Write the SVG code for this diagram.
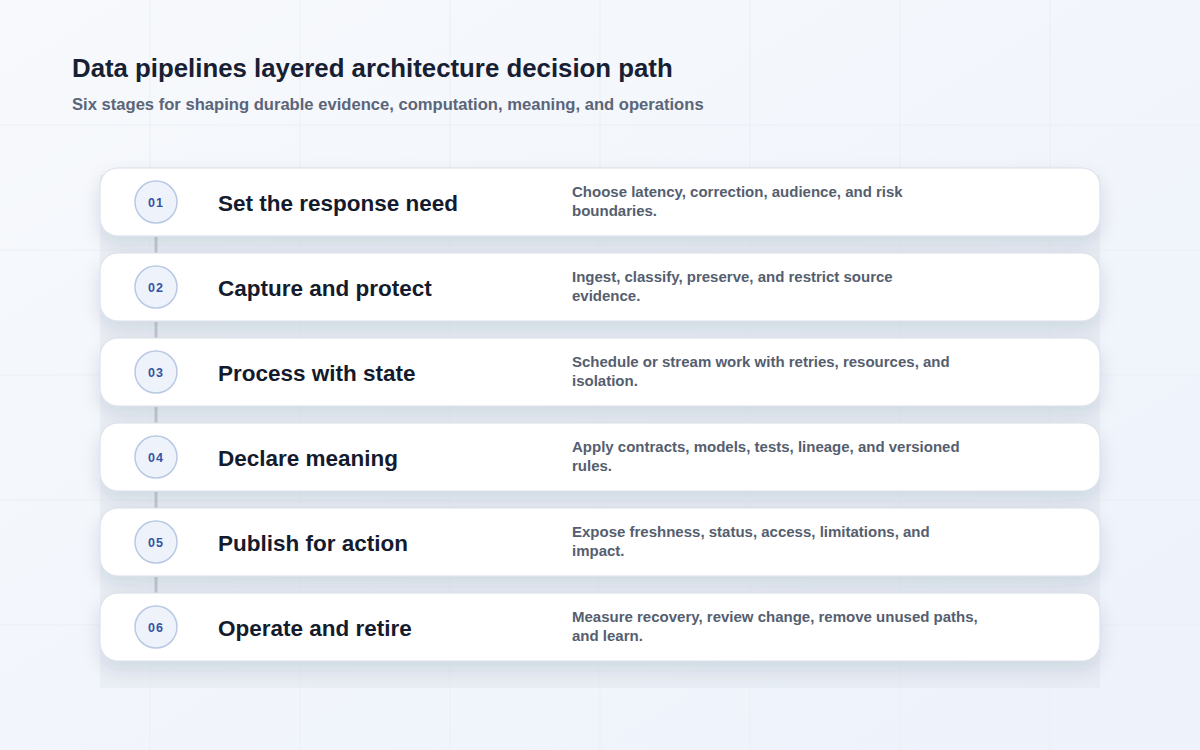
<svg xmlns="http://www.w3.org/2000/svg" width="1200" height="750" viewBox="0 0 1200 750">
  <defs>
    <linearGradient id="bg" x1="0" y1="0" x2="1" y2="1">
      <stop offset="0" stop-color="#f7f9fc"/>
      <stop offset="1" stop-color="#edf2fb"/>
    </linearGradient>
    <filter id="shadow" x="-10%" y="-40%" width="120%" height="200%">
      <feDropShadow dx="0" dy="8" stdDeviation="9" flood-color="#1e2a4a" flood-opacity="0.12"/>
    </filter>
  </defs>
  <style>
    .grid { stroke: #e9edf4; stroke-width: 1; opacity: 0.8; }
    .title { font-family: "Liberation Sans", Arial, sans-serif; font-weight: bold; font-size: 25.8px; fill: #172033; }
    .subtitle { font-family: "Liberation Sans", Arial, sans-serif; font-weight: bold; font-size: 16.6px; fill: #5b6579; }
    .card { fill: #ffffff; stroke: #d7dde8; stroke-width: 1; filter: url(#shadow); }
    .badge { fill: #eef3fb; stroke: #b9c9e4; stroke-width: 1.5; }
    .num { font-family: "Liberation Sans", Arial, sans-serif; font-weight: bold; font-size: 12.5px; fill: #3454a4; letter-spacing: 1px; text-anchor: middle; }
    .head { font-family: "Liberation Sans", Arial, sans-serif; font-weight: bold; font-size: 22.5px; fill: #141b2c; }
    .desc { font-family: "Liberation Sans", Arial, sans-serif; font-weight: bold; font-size: 15px; fill: #555e6f; }
    .link { stroke: #c5c9d2; stroke-width: 3; fill: none; }
  </style>

  <rect width="1200" height="750" fill="url(#bg)"/>
  <g id="grid">
    <line class="grid" x1="150" y1="0" x2="150" y2="750"/>
    <line class="grid" x1="300" y1="0" x2="300" y2="750"/>
    <line class="grid" x1="450" y1="0" x2="450" y2="750"/>
    <line class="grid" x1="600" y1="0" x2="600" y2="750"/>
    <line class="grid" x1="750" y1="0" x2="750" y2="750"/>
    <line class="grid" x1="900" y1="0" x2="900" y2="750"/>
    <line class="grid" x1="1050" y1="0" x2="1050" y2="750"/>
    <line class="grid" x1="0" y1="125" x2="1200" y2="125"/>
    <line class="grid" x1="0" y1="250" x2="1200" y2="250"/>
    <line class="grid" x1="0" y1="375" x2="1200" y2="375"/>
    <line class="grid" x1="0" y1="500" x2="1200" y2="500"/>
    <line class="grid" x1="0" y1="625" x2="1200" y2="625"/>
  </g>

  <g id="header">
    <text class="title" x="72" y="77">Data pipelines layered architecture decision path</text>
    <text class="subtitle" x="72" y="110">Six stages for shaping durable evidence, computation, meaning, and operations</text>
  </g>

  <rect id="panel" x="100" y="175" width="1000" height="513" fill="#e2e7f0" opacity="0.5"/>

  <g id="connectors">
    <line class="link" x1="156" y1="237" x2="156" y2="253"/>
    <line class="link" x1="156" y1="322" x2="156" y2="338"/>
    <line class="link" x1="156" y1="407" x2="156" y2="423"/>
    <line class="link" x1="156" y1="492" x2="156" y2="508"/>
    <line class="link" x1="156" y1="577" x2="156" y2="593"/>
  </g>

  <g id="stage1">
    <rect class="card" x="100" y="168" width="1000" height="68" rx="18"/>
    <circle class="badge" cx="156" cy="202" r="21"/>
    <text class="num" x="156" y="206.5">01</text>
    <text class="head" x="218" y="211">Set the response need</text>
    <text class="desc" x="572" y="197">Choose latency, correction, audience, and risk</text>
    <text class="desc" x="572" y="216">boundaries.</text>
  </g>
  <g id="stage2">
    <rect class="card" x="100" y="253" width="1000" height="68" rx="18"/>
    <circle class="badge" cx="156" cy="287" r="21"/>
    <text class="num" x="156" y="291.5">02</text>
    <text class="head" x="218" y="296">Capture and protect</text>
    <text class="desc" x="572" y="282">Ingest, classify, preserve, and restrict source</text>
    <text class="desc" x="572" y="301">evidence.</text>
  </g>
  <g id="stage3">
    <rect class="card" x="100" y="338" width="1000" height="68" rx="18"/>
    <circle class="badge" cx="156" cy="372" r="21"/>
    <text class="num" x="156" y="376.5">03</text>
    <text class="head" x="218" y="381">Process with state</text>
    <text class="desc" x="572" y="367">Schedule or stream work with retries, resources, and</text>
    <text class="desc" x="572" y="386">isolation.</text>
  </g>
  <g id="stage4">
    <rect class="card" x="100" y="423" width="1000" height="68" rx="18"/>
    <circle class="badge" cx="156" cy="457" r="21"/>
    <text class="num" x="156" y="461.5">04</text>
    <text class="head" x="218" y="466">Declare meaning</text>
    <text class="desc" x="572" y="452">Apply contracts, models, tests, lineage, and versioned</text>
    <text class="desc" x="572" y="471">rules.</text>
  </g>
  <g id="stage5">
    <rect class="card" x="100" y="508" width="1000" height="68" rx="18"/>
    <circle class="badge" cx="156" cy="542" r="21"/>
    <text class="num" x="156" y="546.5">05</text>
    <text class="head" x="218" y="551">Publish for action</text>
    <text class="desc" x="572" y="537">Expose freshness, status, access, limitations, and</text>
    <text class="desc" x="572" y="556">impact.</text>
  </g>
  <g id="stage6">
    <rect class="card" x="100" y="593" width="1000" height="68" rx="18"/>
    <circle class="badge" cx="156" cy="627" r="21"/>
    <text class="num" x="156" y="631.5">06</text>
    <text class="head" x="218" y="636">Operate and retire</text>
    <text class="desc" x="572" y="622">Measure recovery, review change, remove unused paths,</text>
    <text class="desc" x="572" y="641">and learn.</text>
  </g>
</svg>
